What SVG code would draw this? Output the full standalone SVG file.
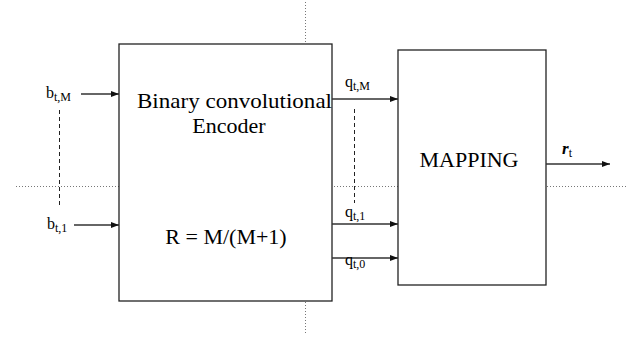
<svg xmlns="http://www.w3.org/2000/svg" width="628" height="338" viewBox="0 0 628 338">
<defs>
<marker id="ah" markerWidth="8" markerHeight="6" refX="8" refY="3" orient="auto" markerUnits="userSpaceOnUse">
<path d="M0,0 L8,3 L0,6 Z" fill="#111"/>
</marker>
<style>
.box{fill:#fff;stroke:#222;stroke-width:1.3}
.arr{stroke:#333;stroke-width:1.3;fill:none;marker-end:url(#ah)}
.dash{stroke:#222;stroke-width:1;stroke-dasharray:4,3;fill:none}
.dot{stroke:#777;stroke-width:1;stroke-dasharray:1,2;fill:none}
text{font-family:'Liberation Serif','DejaVu Serif','Times New Roman',serif;fill:#000}
.big{font-size:22px}
.lbl{font-size:16px}
.sub{font-size:12px}
</style>
</defs>
<rect width="628" height="338" fill="#fff"/>
<g id="guides">
<line class="dot" x1="16" y1="186.5" x2="628" y2="186.5"/>
<line class="dot" x1="305.5" y1="2" x2="305.5" y2="334"/>
</g>
<g id="encoder">
<rect class="box" x="119" y="44" width="213" height="257"/>
<text class="big" x="137" y="108" textLength="195" lengthAdjust="spacingAndGlyphs">Binary convolutional</text>
<text class="big" x="229" y="133" text-anchor="middle">Encoder</text>
<text class="big" x="226" y="244" text-anchor="middle">R = M/(M+1)</text>
</g>
<g id="mapping">
<rect class="box" x="398" y="50" width="148" height="235"/>
<text class="big" x="469" y="167" text-anchor="middle">MAPPING</text>
</g>
<g id="connectors">
<line class="arr" x1="81" y1="94" x2="119" y2="94"/>
<line class="arr" x1="74" y1="225" x2="119" y2="225"/>
<line class="dash" x1="59.5" y1="110" x2="59.5" y2="208"/>
<line class="arr" x1="332" y1="99" x2="398" y2="99"/>
<line class="arr" x1="332" y1="224" x2="398" y2="224"/>
<line class="arr" x1="332" y1="258" x2="398" y2="258"/>
<line class="dash" x1="354.5" y1="109" x2="354.5" y2="203"/>
<line class="arr" x1="546" y1="164" x2="610" y2="164"/>
</g>
<g id="labels">
<text class="lbl" x="46" y="98">b<tspan class="sub" dy="3">t,M</tspan></text>
<text class="lbl" x="47" y="229">b<tspan class="sub" dy="3">t,1</tspan></text>
<text class="lbl" x="345" y="87">q<tspan class="sub" dy="3">t,M</tspan></text>
<text class="lbl" x="345" y="217">q<tspan class="sub" dy="3">t,1</tspan></text>
<text class="lbl" x="345" y="265">q<tspan class="sub" dy="3">t,0</tspan></text>
<text x="562" y="154" font-size="17" font-weight="bold" font-style="italic">r<tspan class="sub" dy="3" font-weight="normal" font-style="normal">t</tspan></text>
</g>
</svg>
